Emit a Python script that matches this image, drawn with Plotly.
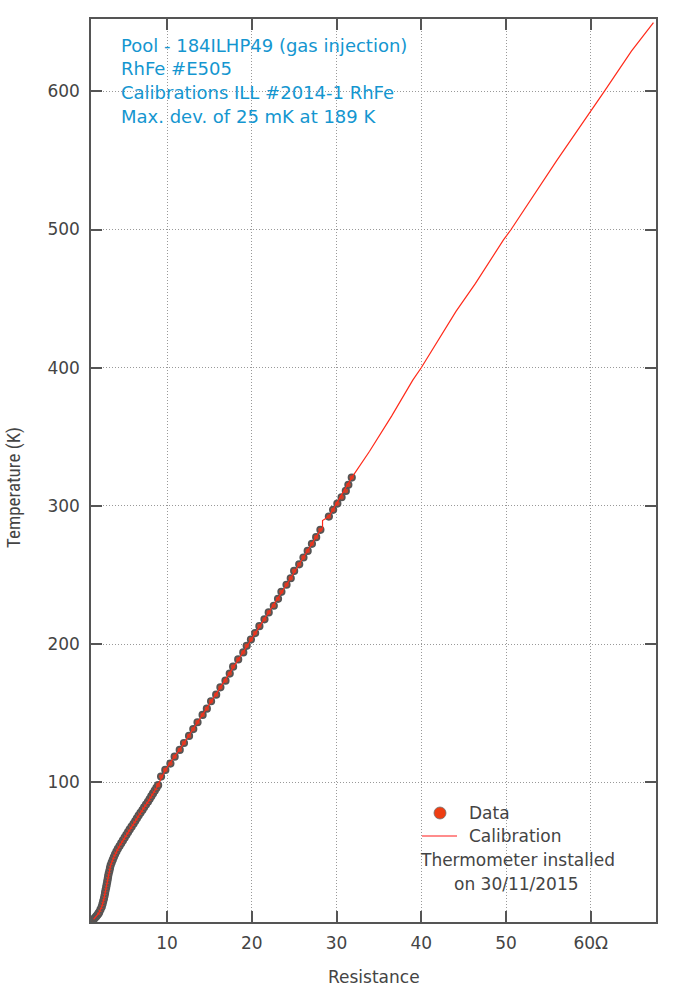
import plotly.graph_objects as go

# ---- data ----
data_R = [1.35, 1.5, 1.65, 1.78, 1.9, 2.0, 2.15, 2.3, 2.39, 2.47, 2.56, 2.63, 2.69, 2.75,
          2.82, 2.88, 2.94, 3.0, 3.05, 3.12, 3.2, 3.27, 3.35, 3.47, 3.6, 3.73, 3.87, 4.03,
          4.2, 4.4, 4.6, 4.8, 5.0, 5.2, 5.4, 5.6, 5.82, 6.05, 6.25, 6.45, 6.65, 6.87, 7.1,
          7.3, 7.52, 7.75, 7.95, 8.15, 8.35, 8.55, 8.75, 8.95,
          9.3, 9.8, 10.4, 10.9, 11.5, 12.0, 12.6, 13.1, 13.6, 14.2, 14.7, 15.2, 15.8, 16.3,
          16.9, 17.4, 17.8, 18.4, 19.0, 19.4, 19.9, 20.4, 20.9, 21.5, 22.0, 22.6, 23.1, 23.5,
          24.1, 24.6, 25.0, 25.6, 26.1, 26.6, 27.1, 27.6, 28.1, 29.1, 29.6, 30.1, 30.6, 31.1,
          31.4, 31.8]
data_T = [1, 2, 3, 4, 5, 6, 8, 10, 12, 14, 16, 18, 20, 22,
          24, 26, 28, 30, 32, 34, 36, 38, 40, 42, 44, 46, 48, 50,
          52, 54, 56, 58, 60, 62, 64, 66, 68, 70, 72, 74, 76, 78, 80,
          82, 84, 86, 88, 90, 92, 94, 96, 98,
          104.2, 109, 113.6, 118.6, 123.5, 128.5, 133.6, 138.6, 143.5, 148.8, 153.3, 158.7, 163.5, 168.8,
          173.6, 178.7, 183.7, 189, 194, 198.8, 203.4, 208, 213, 218, 223, 227.8, 232.8, 237.9,
          243, 247.7, 253, 257.8, 262.7, 267.5, 272.6, 277.4, 282.7, 292.3, 297.2, 301.7, 306.3, 310.9,
          315.3, 320.5]

cal_R = [1.35, 1.9, 2.3, 2.6, 2.85, 3.05, 3.35, 3.8, 4.3, 4.9, 5.5, 6.1, 6.6, 7.2, 7.8, 8.3,
         8.8, 9.8, 12.0, 16.3, 20.4, 24.1, 28.1, 28.35, 28.35, 29.1, 31.8, 33.9, 36.5, 39.0,
         40.0, 44.1, 46.4, 49.7, 50.6, 56.0, 61.6, 64.8, 67.4]
cal_T = [1, 5, 10, 17, 25, 32, 40, 47, 53, 59, 65, 70.5, 75.5, 81, 86.5, 91.5,
         96.5, 109, 128.5, 168.8, 208, 243, 282.7, 283.5, 289.5, 292.3, 320.5, 339.6, 365, 391,
         400, 440.8, 461, 492.5, 500, 550, 600, 629, 649.7]

x_ticks = [10, 20, 30, 40, 50, 60]
x_ticktext = ["10", "20", "30", "40", "50", "60Ω"]
y_ticks = [100, 200, 300, 400, 500, 600]

info_lines = ["Pool - 184ILHP49 (gas injection)", "RhFe #E505",
              "Calibrations ILL #2014-1 RhFe", "Max. dev. of 25 mK at 189 K"]

W, H = 700, 990
ML, MR, MT, MB = 91, 44, 19, 68
PW, PH = W - ML - MR, H - MT - MB

def px(x):
    return (x - ML) / PW

def py(y):
    return 1 - (y - MT) / PH

FONT = "DejaVu Sans, Verdana, sans-serif"
AX = "#555555"
TXT = "#444444"
BLUE = "#1496d0"

fig = go.Figure()
fig.add_trace(go.Scatter(x=data_R, y=data_T, mode="markers",
                         marker=dict(size=6.5, color="#c8452c", line=dict(color="#555555", width=1.7)),
                         showlegend=False))
fig.add_trace(go.Scatter(x=cal_R, y=cal_T, mode="lines",
                         line=dict(color="#ff2a1a", width=1.2), showlegend=False, hoverinfo="skip"))

axis_common = dict(showline=True, linecolor=AX, linewidth=1.5, mirror="ticks",
                   ticks="inside", ticklen=11, tickwidth=1.5, tickcolor=AX,
                   showgrid=True, gridcolor="#999999", griddash="1px,2px", gridwidth=1,
                   zeroline=False, tickfont=dict(family=FONT, size=17, color=TXT))

fig.update_layout(
    width=W, height=H,
    margin=dict(l=ML, r=MR, t=MT, b=MB),
    paper_bgcolor="white", plot_bgcolor="white",
    showlegend=False,
    xaxis=dict(range=[1.03, 67.7], tickvals=x_ticks, ticktext=x_ticktext,
               ticklabelstandoff=5, **axis_common),
    yaxis=dict(range=[-1.0, 652.3], tickvals=y_ticks, ticklabelstandoff=6, **axis_common),
)

ann = []
for i, t in enumerate(info_lines):
    ann.append(dict(text=t, x=px(119), y=py(45 + i * 23.7), xref="paper", yref="paper",
                    xanchor="left", yanchor="middle", showarrow=False,
                    font=dict(family=FONT, size=18, color=BLUE)))
ann.append(dict(text="Data", x=px(467), y=py(813), xref="paper", yref="paper",
                xanchor="left", yanchor="middle", showarrow=False,
                font=dict(family=FONT, size=17, color=TXT)))
ann.append(dict(text="Calibration", x=px(467), y=py(836), xref="paper", yref="paper",
                xanchor="left", yanchor="middle", showarrow=False,
                font=dict(family=FONT, size=17, color=TXT)))
ann.append(dict(text="Thermometer installed", x=px(517), y=py(860), xref="paper", yref="paper",
                xanchor="center", yanchor="middle", showarrow=False,
                font=dict(family=FONT, size=17, color=TXT)))
ann.append(dict(text="on 30/11/2015", x=px(516), y=py(884), xref="paper", yref="paper",
                xanchor="center", yanchor="middle", showarrow=False,
                font=dict(family=FONT, size=17, color=TXT)))
ann.append(dict(text="Resistance", x=px(374), y=py(977), xref="paper", yref="paper",
                xanchor="center", yanchor="middle", showarrow=False,
                font=dict(family=FONT, size=17, color=TXT)))
ann.append(dict(text="Temperature (K)", x=px(13), y=py(488), xref="paper", yref="paper",
                xanchor="center", yanchor="middle", showarrow=False, textangle=-90,
                font=dict(family="Liberation Sans Narrow, Roboto Condensed, Arial Narrow, sans-serif",
                          size=19, color=TXT)))
fig.update_layout(annotations=ann)

shapes = [
    dict(type="circle", xref="paper", yref="paper",
         x0=px(434), x1=px(446), y0=py(807), y1=py(819),
         fillcolor="#ee3d12", line=dict(color="#707070", width=0.8)),
    dict(type="line", xref="paper", yref="paper",
         x0=px(422), x1=px(457), y0=py(836), y1=py(836),
         line=dict(color="#ff1a1a", width=1.2)),
]
fig.update_layout(shapes=shapes)

fig.write_html("out.html", config={"displayModeBar": False},
               post_script="document.body.style.margin='0';document.body.style.padding='0';")
